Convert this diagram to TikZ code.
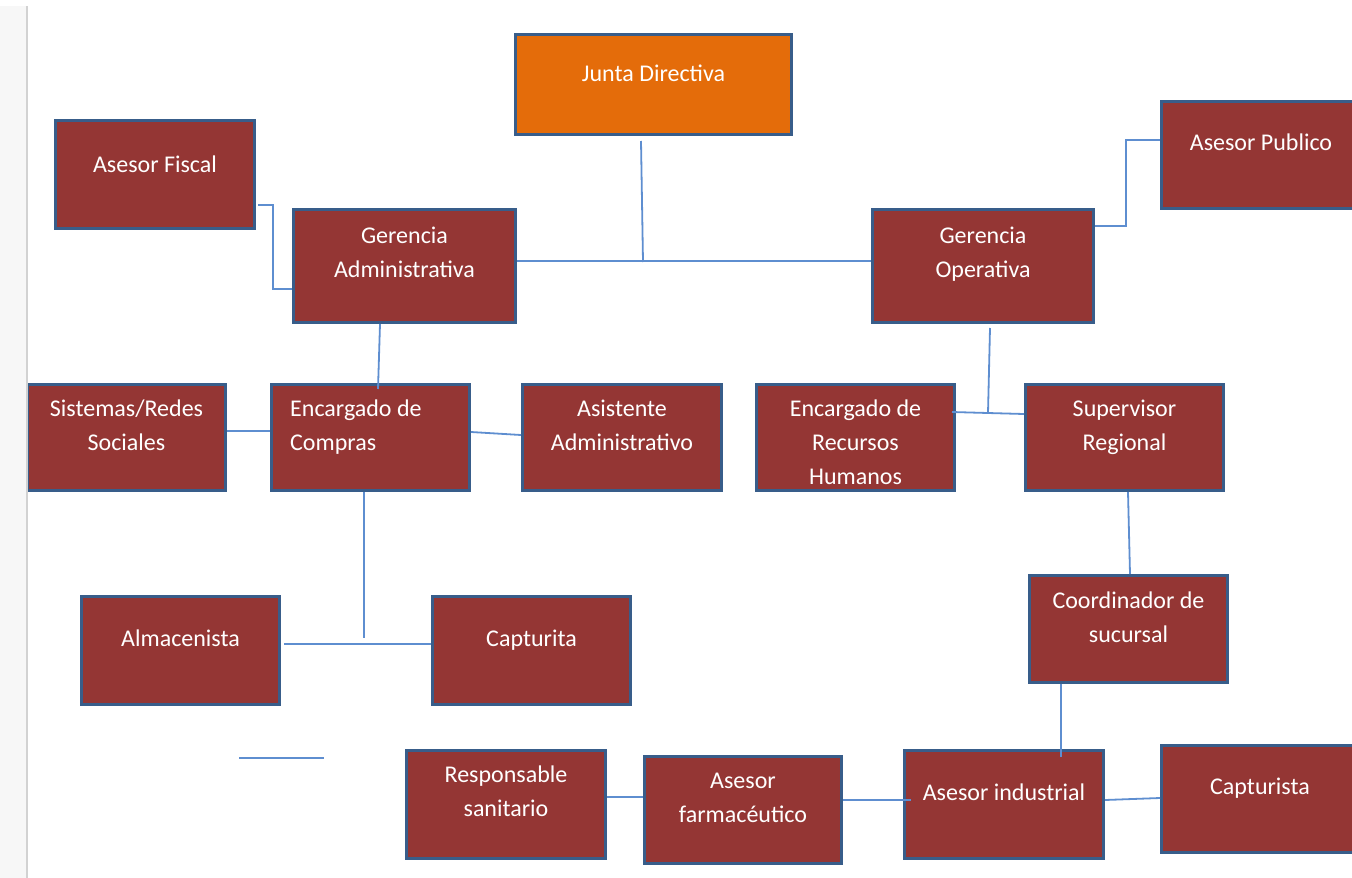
\documentclass[tikz,border=0pt]{standalone}
\usepackage{fontspec}
\setmainfont{Carlito}
\usetikzlibrary{calc,positioning}

\definecolor{boxred}{HTML}{943634}
\definecolor{boxorange}{HTML}{E46C0A}
\definecolor{boxedge}{HTML}{385D8A}
\definecolor{linkblue}{HTML}{5E8ED0}

\tikzset{
  box/.style={draw=boxedge,line width=3pt,fill=boxred,anchor=north west,
    minimum width=198pt,minimum height=107pt,inner sep=0pt},
  lbl/.style={text=white,font=\fontsize{24}{34}\selectfont,align=center,inner sep=0pt},
  link/.style={draw=linkblue,line width=1.8pt},
}

\begin{document}
\begin{tikzpicture}[x=1pt,y=-1pt]
\useasboundingbox (0,0) rectangle (1352,878);
\clip (0,0) rectangle (1352,878);
% boxes
\node[box,fill=boxorange,minimum width=276pt,minimum height=100pt] (jd) at (514,33) {};
\node[box,minimum width=199pt,minimum height=108pt] (af) at (54,119) {};
\node[box,minimum width=222pt,minimum height=113pt] (ga) at (292,208) {};
\node[box,minimum width=221pt,minimum height=113pt] (go) at (871,208) {};
\node[box,minimum width=197pt] (ap) at (1160,100) {};
\node[box,minimum height=106pt] (sr) at (26,383) {};
\node[box,minimum height=106pt] (ec) at (270,383) {};
\node[box,minimum width=199pt,minimum height=106pt] (aa) at (521,383) {};
\node[box,minimum height=106pt] (rh) at (755,383) {};
\node[box,minimum height=106pt] (sv) at (1024,383) {};
\node[box] (cs) at (1028,574) {};
\node[box,minimum height=108pt] (al) at (80,595) {};
\node[box,minimum height=108pt] (cp) at (431,595) {};
\node[box,minimum width=199pt,minimum height=108pt] (rs) at (405,749) {};
\node[box,minimum width=197pt] (fa) at (643,755) {};
\node[box,minimum width=199pt,minimum height=108pt] (ai) at (903,749) {};
\node[box,minimum width=197pt] (ca) at (1160,744) {};
% texts
\node[lbl] (jd-t) at ($(jd.north)+(0,40)$) {Junta Directiva};
\node[lbl] (af-t) at ($(af.north)+(0,45)$) {Asesor Fiscal};
\node[lbl] (ga-t) at ($(ga.north)+(0,44)$) {Gerencia\\Administrativa};
\node[lbl] (go-t) at ($(go.north)+(0,46)$) {Gerencia\\Operativa};
\node[lbl] (ap-t) at ($(ap.north)+(1,42)$) {Asesor Publico};
\node[lbl] (sr-t) at ($(sr.north)+(0,42)$) {Sistemas/Redes\\Sociales};
\node[lbl,anchor=west,align=left] (ec-t) at ($(ec.north west)+(20,44)$) {Encargado de\\Compras};
\node[lbl] (aa-t) at ($(aa.north)+(0,42)$) {Asistente\\Administrativo};
\node[lbl] (rh-t) at ($(rh.north)+(0,59)$) {Encargado de\\Recursos\\Humanos};
\node[lbl] (sv-t) at ($(sv.north)+(0,44)$) {Supervisor\\Regional};
\node[lbl] (cs-t) at ($(cs.north)+(0,43)$) {Coordinador de\\sucursal};
\node[lbl] (al-t) at ($(al.north)+(0,43)$) {Almacenista};
\node[lbl] (cp-t) at ($(cp.north)+(0,45)$) {Capturita};
\node[lbl] (rs-t) at ($(rs.north)+(0,42)$) {Responsable\\sanitario};
\node[lbl] (fa-t) at ($(fa.north)+(0,43)$) {Asesor\\farmacéutico};
\node[lbl] (ai-t) at ($(ai.north)+(0,43)$) {Asesor industrial};
\node[lbl] (ca-t) at ($(ca.north)+(0,44)$) {Capturista};
% connectors
\coordinate (jdmid) at (643,262);
\coordinate (afbend) at (273,289);
\coordinate (gomid) at (988,413);
\coordinate (ecend) at (364,638);
\coordinate (s1) at (239,758);
\coordinate (s2) at (324,758);
\draw[link] ($(jd.south -| 641,0)+(0,5)$) -- (jdmid);
\draw[link] (ga.east |- 0,261) -- (go.west |- 0,261);
\draw[link] ($(af.east |- 0,205)+(2,0)$) -| (afbend) -- (ga.west |- 0,289);
\draw[link] (go.east |- 0,226) -| (1126,140) -- (ap.west |- 0,140);
\draw[link] (ga.south -| 380,0) -- ($(ec.north -| 378,0)+(0,6)$);
\draw[link] (sr.east |- 0,431) -- (ec.west |- 0,431);
\draw[link] (ec.east |- 0,432) -- (aa.west |- 0,435);
\draw[link] ($(go.south -| 990,0)+(0,4)$) -- (gomid);
\draw[link] ($(rh.east |- 0,412)+(-4,0)$) -- (sv.west |- 0,414);
\draw[link] (sv.south -| 1128,0) -- (cs.north -| 1130,0);
\draw[link] (ec.south -| 364,0) -- (ecend);
\draw[link] ($(al.east |- 0,644)+(3,0)$) -- (cp.west |- 0,644);
\draw[link] (s1) -- (s2);
\draw[link] (cs.south -| 1061,0) -- ($(ai.north -| 1061,0)+(0,8)$);
\draw[link] (rs.east |- 0,797) -- (fa.west |- 0,797);
\draw[link] (fa.east |- 0,800) -- ($(ai.west |- 0,800)+(8,0)$);
\draw[link] (ai.east |- 0,800) -- (ca.west |- 0,798);
% page margin on the left
\fill[gray!6] (0,6) rectangle (26,878);
\draw[gray!35,line width=1.5pt] (27,6) -- (27,878);
\end{tikzpicture}
\end{document}
